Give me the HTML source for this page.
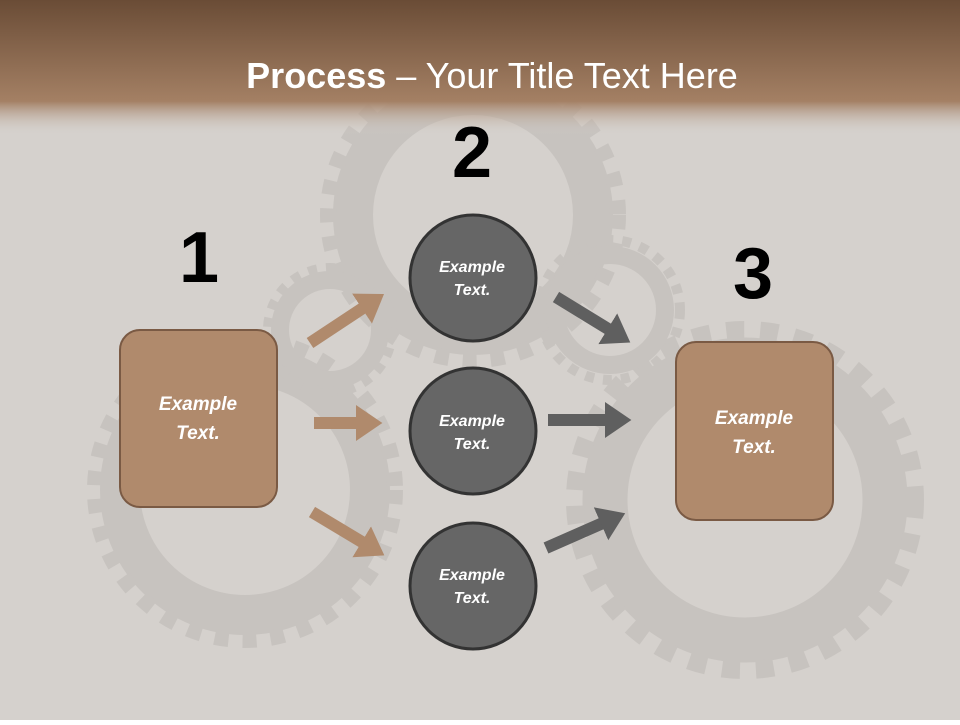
<!DOCTYPE html><html><head><style>body{margin:0;width:960px;height:720px;overflow:hidden;font-family:"Liberation Sans",sans-serif}</style></head><body>
<svg width="960" height="720" xmlns="http://www.w3.org/2000/svg">
<defs>
<linearGradient id="hd" x1="0" y1="0" x2="0" y2="1">
<stop offset="0" stop-color="#6a4c36"/><stop offset="0.75" stop-color="#a48064"/><stop offset="1" stop-color="#d3cfcb" stop-opacity="0"/></linearGradient>
<marker id="ab" markerWidth="3" markerHeight="3" refX="1" refY="1.5" orient="auto" markerUnits="strokeWidth"><path d="M0,0 L2.2,1.5 L0,3z" fill="#b08a6c"/></marker>
<marker id="ag" markerWidth="3" markerHeight="3" refX="1" refY="1.5" orient="auto" markerUnits="strokeWidth"><path d="M0,0 L2.2,1.5 L0,3z" fill="#5f5f5f"/></marker>
</defs>
<rect width="960" height="720" fill="#d5d1cd"/>
<g fill="none" stroke="#c7c3bf">
<circle cx="473" cy="215" r="120" stroke-width="40"/><circle cx="473" cy="215" r="145" stroke-width="16" stroke-dasharray="14 14"/>
<circle cx="245" cy="490" r="125" stroke-width="40"/><circle cx="245" cy="490" r="150" stroke-width="16" stroke-dasharray="14 14"/>
<circle cx="745" cy="500" r="140" stroke-width="45"/><circle cx="745" cy="500" r="170" stroke-width="18" stroke-dasharray="18 16"/>
<circle cx="330" cy="330" r="50" stroke-width="18"/><circle cx="330" cy="330" r="62" stroke-width="10" stroke-dasharray="9 9"/>
<circle cx="610" cy="310" r="55" stroke-width="18"/><circle cx="610" cy="310" r="70" stroke-width="10" stroke-dasharray="9 9"/>
</g>
<rect width="960" height="135" fill="url(#hd)"/>
<text x="492" y="88" text-anchor="middle" font-size="36" fill="#fff"><tspan font-weight="bold">Process</tspan> – Your Title Text Here</text>
<g font-weight="bold" font-size="72" fill="#000" text-anchor="middle">
<text x="199" y="282">1</text><text x="472" y="177">2</text><text x="753" y="298">3</text></g>
<g stroke-width="12">
<line x1="310" y1="343" x2="372" y2="302" stroke="#b08a6c" marker-end="url(#ab)"/>
<line x1="314" y1="423" x2="368" y2="423" stroke="#b08a6c" marker-end="url(#ab)"/>
<line x1="312" y1="512" x2="372" y2="548" stroke="#b08a6c" marker-end="url(#ab)"/>
<line x1="556" y1="297" x2="618" y2="335" stroke="#5f5f5f" marker-end="url(#ag)"/>
<line x1="548" y1="420" x2="617" y2="420" stroke="#5f5f5f" marker-end="url(#ag)"/>
<line x1="546" y1="548" x2="612" y2="519" stroke="#5f5f5f" marker-end="url(#ag)"/>
</g>
<g fill="#666" stroke="#333" stroke-width="3">
<circle cx="473" cy="278" r="63"/><circle cx="473" cy="431" r="63"/><circle cx="473" cy="586" r="63"/></g>
<g fill="#b08a6c" stroke="#7a5a44" stroke-width="2">
<rect x="120" y="330" width="157" height="177" rx="20"/><rect x="676" y="342" width="157" height="178" rx="20"/></g>
<g fill="#fff" font-weight="bold" font-style="italic" text-anchor="middle">
<g font-size="16"><text x="472" y="272">Example</text><text x="472" y="295">Text.</text>
<text x="472" y="426">Example</text><text x="472" y="449">Text.</text>
<text x="472" y="580">Example</text><text x="472" y="603">Text.</text></g>
<g font-size="19"><text x="198" y="410">Example</text><text x="198" y="439">Text.</text>
<text x="754" y="424">Example</text><text x="754" y="453">Text.</text></g></g>
</svg></body></html>
